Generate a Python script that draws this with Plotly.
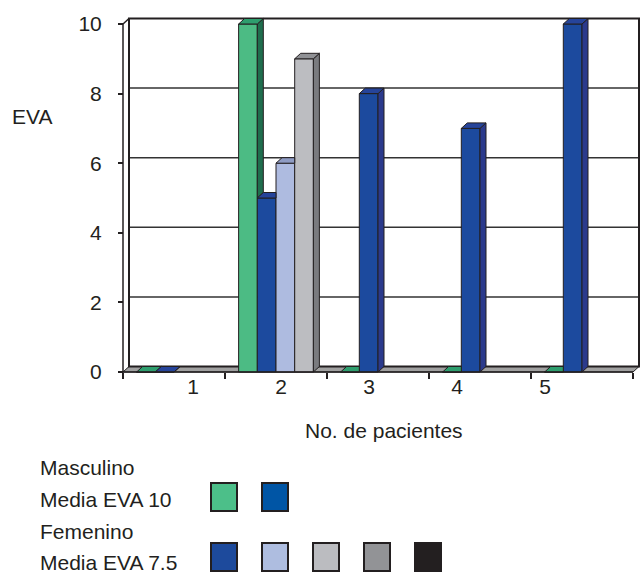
import plotly.graph_objects as go

# --- data -------------------------------------------------------------
pacientes = [1, 2, 3, 4, 5]
serie_verde = [0, 10, 0, 0, 0]
serie_azul = [0, 5, 8, 7, 10]
serie_celeste = [None, 6, None, None, None]
serie_gris = [None, 9, None, None, None]
y_ticks = [0, 2, 4, 6, 8, 10]

series = [serie_verde, serie_azul, serie_celeste, serie_gris]
front_colors = ["#4cbb84", "#1c4a9e", "#aebbe0", "#bcbdc1"]
side_colors = ["#1f6e4e", "#2b3a8c", "#7d87a8", "#7a7b7f"]
top_colors = ["#2e9e6e", "#26449a", "#8f9cc4", "#909195"]
edge = "#231f20"
FS = 21

# --- geometry of the pseudo-3D frame (data units) ---------------------
W, H = 640, 573
PX_X = 102.0          # pixels per category
PX_Y = 34.8           # pixels per EVA unit
X0_PX, Y0_PX = 123, 372
DX = 6 / PX_X         # depth offset along x
DY = 5.5 / PX_Y       # depth offset along y
BARGAP = 0.267
n = len(series)
slot = (1 - BARGAP) / n

dom_x = [121, 640]
dom_y = [16, 380]
xr = [0.5 + (p - X0_PX) / PX_X for p in dom_x]
yr = [(Y0_PX - p) / PX_Y for p in (dom_y[1], dom_y[0])]

# tick labels of the category axis sit on their own scale
LBL0, LBL_STEP = 193, 88
xr2 = [1 + (p - LBL0) / LBL_STEP for p in dom_x]

xlo, xhi = pacientes[0] - 0.5, pacientes[-1] + 0.5
ytop = y_ticks[-1]

fig = go.Figure()

# front faces
for i, vals in enumerate(series):
    fig.add_trace(go.Bar(
        x=pacientes, y=vals, marker=dict(color=front_colors[i], line=dict(color=edge, width=1)),
        hoverinfo="skip", showlegend=False))

# side and top faces, painted left to right inside each cluster
for i, vals in enumerate(series):
    nxt = series[i + 1] if i + 1 < n else [None] * len(pacientes)
    sx, sy, tx, ty = [], [], [], []
    for k, h in enumerate(vals):
        if h is None:
            continue
        x0 = pacientes[k] - (1 - BARGAP) / 2 + i * slot
        x1 = x0 + slot
        hn = nxt[k]
        # top face
        if hn is not None and hn > h:
            tx += [x0, x1, x1, x0 + DX, x0, None]
            ty += [h, h, h + DY, h + DY, h, None]
        else:
            tx += [x0, x1, x1 + DX, x0 + DX, x0, None]
            ty += [h, h, h + DY, h + DY, h, None]
        # side face
        if hn is not None and hn >= h:
            continue
        b = hn if hn is not None else 0
        sx += [x1, x1, x1 + DX, x1 + DX, x1, None]
        sy += [b, h, h + DY, b + DY, b, None]
    if sx:
        fig.add_trace(go.Scatter(x=sx, y=sy, mode="lines", fill="toself",
                                 fillcolor=side_colors[i], line=dict(color=edge, width=1),
                                 hoverinfo="skip", showlegend=False))
    fig.add_trace(go.Scatter(x=tx, y=ty, mode="lines", fill="toself",
                             fillcolor=top_colors[i], line=dict(color=edge, width=1),
                             hoverinfo="skip", showlegend=False))

# carrier for the category labels
fig.add_trace(go.Scatter(x=pacientes, y=[0] * len(pacientes), xaxis="x2", mode="markers",
                         marker=dict(opacity=0), hoverinfo="skip", showlegend=False))

shapes = []
# floor
shapes.append(dict(type="path", xref="x", yref="y", layer="below",
                   path=f"M {xlo},0 L {xhi},0 L {xhi+DX},{DY} L {xlo+DX},{DY} Z",
                   fillcolor="#a0a0a0", line=dict(color=edge, width=1)))
# back-wall gridlines
for v in y_ticks[1:-1]:
    shapes.append(dict(type="line", xref="x", yref="y", layer="below",
                       x0=xlo + DX, x1=xhi + DX, y0=v + DY, y1=v + DY,
                       line=dict(color="#333333", width=1.5)))
# back wall outline
shapes.append(dict(type="rect", xref="x", yref="y", layer="below",
                   x0=xlo + DX, x1=xhi + DX, y0=DY, y1=ytop + DY,
                   line=dict(color=edge, width=2)))
# left wall front edge and its top corner
shapes.append(dict(type="line", xref="x", yref="y", layer="below",
                   x0=xlo, x1=xlo, y0=0, y1=ytop, line=dict(color=edge, width=1.5)))
shapes.append(dict(type="line", xref="x", yref="y", layer="below",
                   x0=xlo, x1=xlo + DX, y0=ytop, y1=ytop + DY, line=dict(color=edge, width=1.5)))
# front edge of the floor
shapes.append(dict(type="line", xref="x", yref="y",
                   x0=xlo, x1=xhi, y0=0, y1=0, line=dict(color=edge, width=1.5)))

# legend block: (text, text centre, swatch centre, swatch colours)
font = "Liberation Sans, Arial, sans-serif"
legend_rows = [
    ("Masculino", 467, None, []),
    ("Media EVA 10", 499, 497, ["#4cbf89", "#0055a5"]),
    ("Femenino", 531, None, []),
    ("Media EVA 7.5", 562, 557, ["#1d4a9c", "#aebde0", "#bbbcc0", "#929396", "#231f20"]),
]
annotations = []
for text, yc, ys, cols in legend_rows:
    annotations.append(dict(text=text, x=38 / W, y=1 - yc / H, xref="paper", yref="paper",
                            xanchor="left", yanchor="middle", showarrow=False,
                            font=dict(family=font, size=FS, color=edge)))
    for j, c in enumerate(cols):
        x0 = 211 + j * 51
        shapes.append(dict(type="rect", xref="paper", yref="paper",
                           x0=x0 / W, x1=(x0 + 26) / W,
                           y0=1 - (ys + 14) / H, y1=1 - (ys - 14) / H,
                           fillcolor=c, line=dict(color=edge, width=2)))

annotations.append(dict(text="EVA", x=10 / W, y=1 - 116 / H, xref="paper", yref="paper",
                        xanchor="left", yanchor="middle", showarrow=False,
                        font=dict(family=font, size=FS, color=edge)))
annotations.append(dict(text="No. de pacientes", x=384 / W, y=1 - 430 / H, xref="paper",
                        yref="paper", xanchor="center", yanchor="middle", showarrow=False,
                        font=dict(family=font, size=FS, color=edge)))

fig.update_layout(
    width=W, height=H, margin=dict(l=0, r=0, t=0, b=0, autoexpand=False),
    paper_bgcolor="white", plot_bgcolor="rgba(0,0,0,0)",
    barmode="group", bargap=BARGAP, bargroupgap=0,
    font=dict(family=font, size=FS, color=edge),
    xaxis=dict(domain=[dom_x[0] / W, dom_x[1] / W], range=xr, anchor="free",
               position=1 - Y0_PX / H, showgrid=False, zeroline=False, showline=False,
               automargin=False,
               tickmode="array", tickvals=[p - 0.5 for p in pacientes] + [xhi],
               ticks="outside", ticklen=6, tickwidth=1.5, tickcolor=edge,
               showticklabels=False),
    xaxis2=dict(overlaying="x", range=xr2, anchor="free", position=1 - Y0_PX / H,
                showgrid=False, zeroline=False, showline=False, automargin=False,
                tickmode="array", tickvals=pacientes, ticks="",
                tickfont=dict(size=FS, color=edge)),
    yaxis=dict(domain=[1 - dom_y[1] / H, 1 - dom_y[0] / H], range=yr, anchor="free",
               position=X0_PX / W, showgrid=False, zeroline=False, showline=False,
               automargin=False,
               tickmode="array", tickvals=y_ticks, ticks="outside", ticklen=5,
               tickwidth=1.5, tickcolor=edge, ticklabelstandoff=12,
               tickfont=dict(size=FS, color=edge)),
    shapes=shapes, annotations=annotations,
)

fig.write_html("out.html")
